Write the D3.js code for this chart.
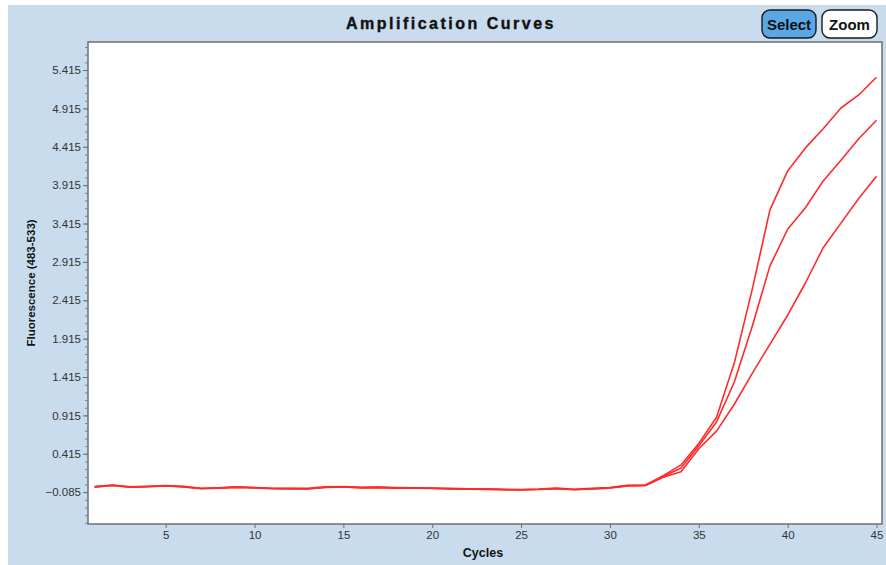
<!DOCTYPE html>
<html>
<head>
<meta charset="utf-8">
<script src="https://cdn.jsdelivr.net/npm/d3@7"></script>
<style>
  html, body { margin: 0; padding: 0; background: #ffffff; }
  svg { display: block; }
</style>
</head>
<body>
<svg id="chart" width="886" height="565"></svg>
<script>
// Amplification data: fluorescence (483-533) per cycle for three wells
const cycles = d3.range(1, 46);

const wellA = [
  -0.012, 0.007, -0.016, -0.010, 0.001, -0.010, -0.034, -0.027, -0.016, -0.025,
  -0.034, -0.036, -0.036, -0.016, -0.012, -0.022, -0.020, -0.026, -0.029, -0.031,
  -0.036, -0.040, -0.042, -0.049, -0.051, -0.046, -0.033, -0.047, -0.036, -0.025,
  0.004, 0.008, 0.13, 0.27, 0.55, 0.89, 1.60, 2.55, 3.59, 4.10,
  4.40, 4.65, 4.92, 5.09, 5.32
];
const wellB = [
  -0.016, 0.004, -0.018, -0.012, -0.002, -0.014, -0.038, -0.031, -0.020, -0.027,
  -0.038, -0.038, -0.040, -0.020, -0.014, -0.026, -0.022, -0.030, -0.031, -0.035,
  -0.040, -0.044, -0.046, -0.051, -0.053, -0.048, -0.037, -0.051, -0.040, -0.029,
  0.000, 0.004, 0.12, 0.23, 0.52, 0.83, 1.35, 2.07, 2.86, 3.34,
  3.62, 3.97, 4.24, 4.52, 4.76
];
const wellC = [
  -0.020, 0.001, -0.021, -0.014, -0.004, -0.018, -0.041, -0.034, -0.023, -0.030,
  -0.041, -0.042, -0.043, -0.024, -0.018, -0.029, -0.026, -0.033, -0.034, -0.038,
  -0.043, -0.047, -0.049, -0.054, -0.056, -0.051, -0.040, -0.054, -0.043, -0.032,
  -0.004, 0.000, 0.11, 0.18, 0.48, 0.71, 1.06, 1.46, 1.84, 2.22,
  2.64, 3.10, 3.42, 3.74, 4.03
];
const wells = [wellA, wellB, wellC];

const xTickValues = [5, 10, 15, 20, 25, 30, 35, 40, 45];
const yTickValues = d3.range(0, 12).map(k => +(-0.085 + 0.5 * k).toFixed(3));
const yMinorValues = d3.range(0, 63).map(k => +(-0.485 + 0.1 * k).toFixed(3));

const titleText = "Amplification Curves";
const xLabel = "Cycles";
const yLabel = "Fluorescence (483-533)";
const buttonLabels = ["Select", "Zoom"];

// Layout
const svg = d3.select("#chart");
const frame = { left: 88, top: 42, right: 882, bottom: 524 };

// Panel background
svg.append("rect").attr("x", 0).attr("y", 0).attr("width", 886).attr("height", 565).attr("fill", "#ffffff");
svg.append("rect").attr("x", 8).attr("y", 5).attr("width", 878).attr("height", 560).attr("fill", "#c9dcee");

// Scales
const x = d3.scaleLinear().domain([1, 45]).range([94.6, 876.5]);
const y = d3.scaleLinear().domain([-0.5, 5.78]).range([frame.bottom, frame.top]);

// Plot area
svg.append("rect")
  .attr("x", frame.left).attr("y", frame.top)
  .attr("width", frame.right - frame.left).attr("height", frame.bottom - frame.top)
  .attr("fill", "#ffffff").attr("stroke", "#6e6e6e").attr("stroke-width", 1.5);

const tickFont = "'Liberation Sans', Arial, sans-serif";

// Y axis: minor ticks, then major ticks with labels
svg.append("g")
  .attr("transform", `translate(${frame.left},0)`)
  .call(d3.axisLeft(y).tickValues(yMinorValues).tickSize(3).tickFormat(""))
  .call(g => g.select(".domain").remove())
  .call(g => g.selectAll("line").attr("stroke", "#808080"));

svg.append("g")
  .attr("transform", `translate(${frame.left},0)`)
  .call(d3.axisLeft(y).tickValues(yTickValues).tickSize(5).tickPadding(2).tickFormat(d3.format(".3f")))
  .call(g => g.select(".domain").remove())
  .call(g => g.selectAll("line").attr("stroke", "#6e6e6e"))
  .call(g => g.selectAll("text")
    .attr("fill", "#333333")
    .style("font-family", tickFont)
    .style("font-size", "11.5px"));

// X axis
svg.append("g")
  .attr("transform", `translate(0,${frame.bottom})`)
  .call(d3.axisBottom(x).tickValues(xTickValues).tickSize(4).tickPadding(3).tickFormat(d3.format("d")))
  .call(g => g.select(".domain").remove())
  .call(g => g.selectAll("line").attr("stroke", "#6e6e6e"))
  .call(g => g.selectAll("text")
    .attr("fill", "#333333")
    .style("font-family", tickFont)
    .style("font-size", "11.5px"));

// Curves
const line = d3.line()
  .x((d, i) => x(cycles[i]))
  .y(d => y(d));

svg.append("g")
  .selectAll("path")
  .data(wells)
  .join("path")
  .attr("d", line)
  .attr("fill", "none")
  .attr("stroke", "#ff2a2a")
  .attr("stroke-width", 1.6)
  .attr("stroke-linejoin", "round");

// Titles
svg.append("text")
  .attr("x", 451).attr("y", 29)
  .attr("text-anchor", "middle")
  .style("font-family", tickFont)
  .style("font-weight", "bold")
  .style("font-size", "16px")
  .style("letter-spacing", "2.5px")
  .attr("fill", "#111111")
  .attr("stroke", "#111111").attr("stroke-width", 0.4)
  .text(titleText);

svg.append("text")
  .attr("x", 483).attr("y", 557)
  .attr("text-anchor", "middle")
  .style("font-family", tickFont)
  .style("font-weight", "bold")
  .style("font-size", "12.5px")
  .attr("fill", "#111111")
  .text(xLabel);

svg.append("text")
  .attr("transform", `translate(35,${(frame.top + frame.bottom) / 2}) rotate(-90)`)
  .attr("text-anchor", "middle")
  .style("font-family", tickFont)
  .style("font-weight", "bold")
  .style("font-size", "11.5px")
  .attr("fill", "#111111")
  .text(yLabel);

// Toolbar buttons
const buttons = [
  { x: 762, w: 54, fill: "#5aa7e6" },
  { x: 822, w: 55, fill: "#ffffff" }
];
const btn = svg.append("g").selectAll("g")
  .data(buttons)
  .join("g")
  .attr("transform", d => `translate(${d.x},10)`);
btn.append("rect")
  .attr("width", d => d.w).attr("height", 28)
  .attr("rx", 8).attr("ry", 8)
  .attr("fill", d => d.fill)
  .attr("stroke", "#1a1a1a").attr("stroke-width", 1.4);
btn.append("text")
  .attr("x", d => d.w / 2).attr("y", 19.5)
  .attr("text-anchor", "middle")
  .style("font-family", tickFont)
  .style("font-weight", "bold")
  .style("font-size", "15px")
  .attr("fill", "#111111")
  .text((d, i) => buttonLabels[i]);
</script>
</body>
</html>
